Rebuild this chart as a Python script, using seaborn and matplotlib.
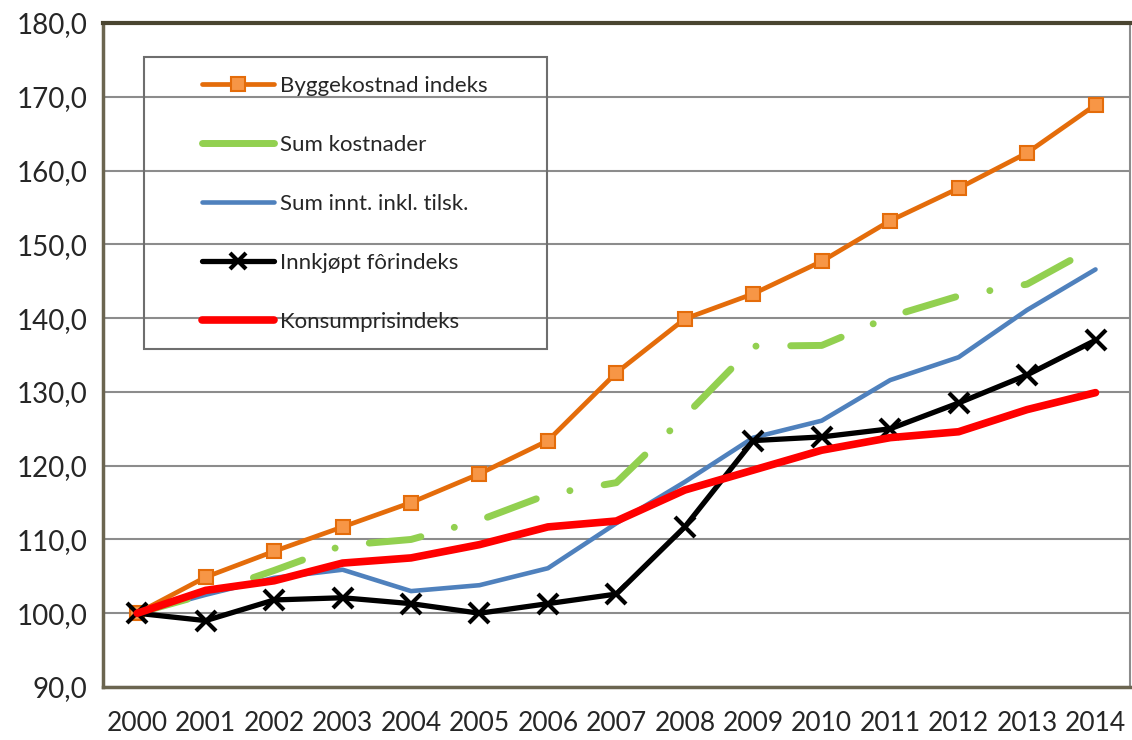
import matplotlib
matplotlib.use("Agg")
import matplotlib.pyplot as plt
import seaborn as sns
import pandas as pd
from matplotlib.lines import Line2D
from matplotlib.patches import Rectangle

# data (index, 2000 = 100)
years = list(range(2000, 2015))
byggekostnad = [100.0, 104.9, 108.4, 111.7, 115.0, 118.9, 123.4, 132.6, 139.9, 143.3, 147.7, 153.2, 157.6, 162.4, 168.9]
sum_kostnader = [100.0, 102.6, 105.8, 109.2, 110.0, 112.6, 116.1, 117.7, 126.7, 136.2, 136.3, 140.2, 143.0, 144.6, 149.7]
sum_innt = [100.0, 102.5, 104.8, 105.9, 103.0, 103.8, 106.1, 112.2, 117.8, 123.8, 126.1, 131.6, 134.7, 141.1, 146.6]
innkjopt_for = [100.0, 99.0, 101.8, 102.1, 101.3, 100.0, 101.3, 102.6, 111.7, 123.4, 123.9, 125.0, 128.5, 132.3, 137.0]
kpi = [100.0, 103.1, 104.4, 106.8, 107.5, 109.3, 111.7, 112.5, 116.7, 119.4, 122.1, 123.8, 124.6, 127.6, 129.9]

labels = ["Byggekostnad indeks", "Sum kostnader", "Sum innt. inkl. tilsk.",
          "Innkjøpt fôrindeks", "Konsumprisindeks"]
y_ticks = list(range(90, 181, 10))

df = pd.DataFrame({"year": years, "bygg": byggekostnad, "kost": sum_kostnader,
                   "innt": sum_innt, "for": innkjopt_for, "kpi": kpi})

sns.set_style("white")
plt.rcParams["font.family"] = ["Lato", "DejaVu Sans"]

fig = plt.figure(figsize=(11.32, 7.4), dpi=100)
ax = fig.add_axes([0.091, 0.0716, 0.907, 0.8973])

orange = "#E46C0A"
green = "#92D050"
blue = "#4F81BD"
red = "#FF0000"

sns.lineplot(data=df, x="year", y="bygg", ax=ax, color=orange, linewidth=3.4,
             marker="s", markersize=10, markerfacecolor="#F79646",
             markeredgecolor=orange, markeredgewidth=1.5, zorder=5)
sns.lineplot(data=df, x="year", y="kost", ax=ax, color=green, linewidth=5,
             linestyle=(0, (7.5, 5.0, 0.01, 5.0)), dash_capstyle="round", zorder=4)
sns.lineplot(data=df, x="year", y="innt", ax=ax, color=blue, linewidth=3.3, zorder=3)
sns.lineplot(data=df, x="year", y="for", ax=ax, color="black", linewidth=3.8,
             marker="x", markersize=14, markeredgewidth=3,
             markeredgecolor="black", zorder=6)
sns.lineplot(data=df, x="year", y="kpi", ax=ax, color=red, linewidth=5.5,
             solid_capstyle="round", zorder=7)

ax.set_xlim(1999.5, 2014.5)
ax.set_ylim(90, 180)
ax.set_yticks(y_ticks)
ax.set_yticklabels([f"{v:.1f}".replace(".", ",") for v in y_ticks])
ax.set_xticks(years)
ax.set_xticklabels([str(y) for y in years])
ax.set_xticks([y - 0.5 for y in years] + [2014.5], minor=True)
ax.set_xlabel("")
ax.set_ylabel("")

ax.grid(axis="y", color="#8c8c8c", linewidth=1.5)
ax.set_axisbelow(True)
ax.tick_params(axis="x", which="major", length=0, pad=17, labelsize=19)
ax.tick_params(axis="x", which="minor", length=8, width=1.5, color="#8c8c8c", direction="out")
ax.tick_params(axis="y", length=8, width=1.5, color="#8c8c8c", direction="out", pad=3, labelsize=20)

ax.spines["top"].set_color("#4a4530")
ax.spines["top"].set_linewidth(3)
ax.spines["left"].set_color("#6b6550")
ax.spines["left"].set_linewidth(2.5)
ax.spines["bottom"].set_color("#6b6550")
ax.spines["bottom"].set_linewidth(2.5)
ax.spines["right"].set_color("#8c8c8c")
ax.spines["right"].set_linewidth(1.5)

# legend box (transparent, gridlines show through)
ax.add_patch(Rectangle((0.040, 0.509), 0.392, 0.44, transform=ax.transAxes,
                       fill=False, edgecolor="#6e6e6e", linewidth=1.5, zorder=8))
handles = [
    Line2D([], [], color=orange, linewidth=3.4, marker="s", markersize=10,
           markerfacecolor="#F79646", markeredgecolor=orange, markeredgewidth=1.5),
    Line2D([], [], color=green, linewidth=5, solid_capstyle="round"),
    Line2D([], [], color=blue, linewidth=3.3, solid_capstyle="round"),
    Line2D([], [], color="black", linewidth=3.8, marker="x", markersize=11, markeredgewidth=3),
    Line2D([], [], color=red, linewidth=5.5, solid_capstyle="round"),
]
ax.legend(handles, labels, loc="upper left", bbox_to_anchor=(0.096, 0.92),
          frameon=False, fontsize=16, handlelength=3.25, handletextpad=0.27,
          labelspacing=1.75, borderpad=0, borderaxespad=0)

fig.savefig("out.png", dpi=100)
